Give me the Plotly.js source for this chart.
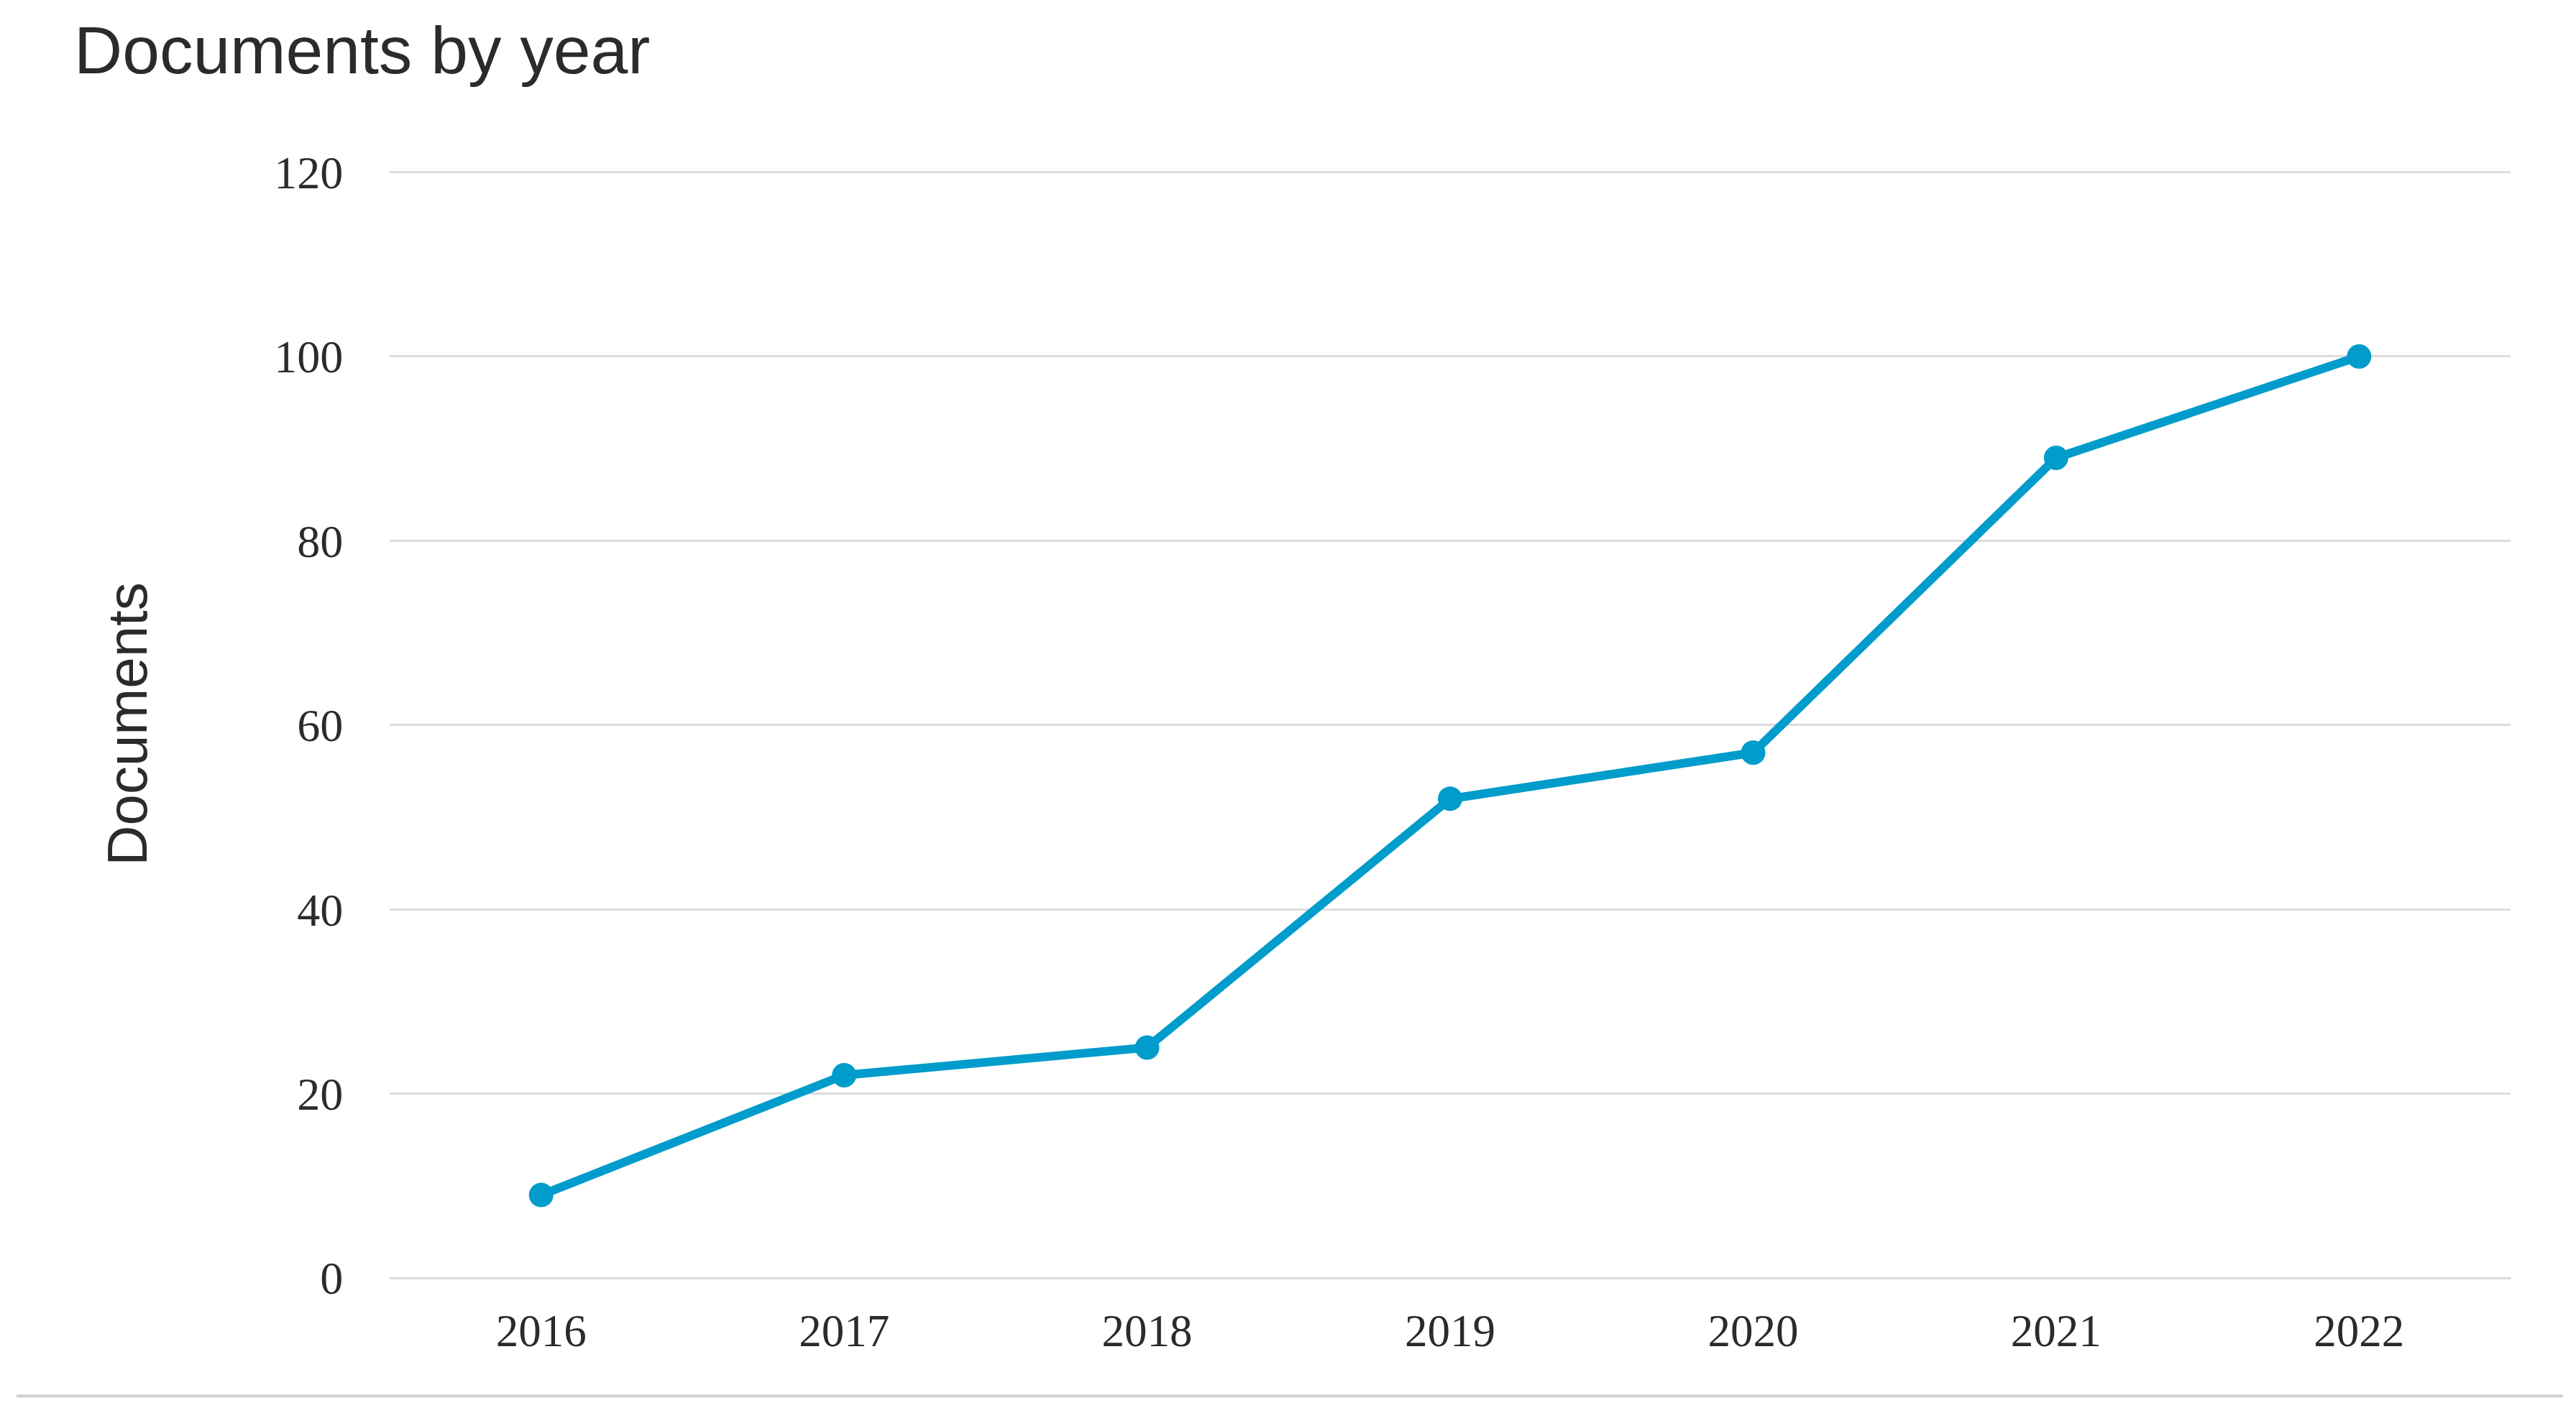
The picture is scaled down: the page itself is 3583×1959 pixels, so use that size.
<!DOCTYPE html>
<html>
<head>
<meta charset="utf-8">
<script src="https://cdn.plot.ly/plotly-3.0.1.min.js"></script>
<style>
  html, body { margin: 0; padding: 0; background: #ffffff; }
  #chart { width: 3583px; height: 1959px; }
</style>
</head>
<body>
<div id="chart"></div>
<script>
const years = ["2016", "2017", "2018", "2019", "2020", "2021", "2022"];
const documents = [9, 22, 25, 52, 57, 89, 100];
const yTickValues = [0, 20, 40, 60, 80, 100, 120];
const yTickLabels = ["0", "20", "40", "60", "80", "100", "120"];

const lineColor = "#009ccb";

const trace = {
  type: "scatter",
  mode: "lines+markers",
  x: years,
  y: documents,
  line: { color: lineColor, width: 12 },
  marker: { color: lineColor, size: 34 },
  hoverinfo: "x+y",
  showlegend: false
};

const layout = {
  width: 3583,
  height: 1959,
  paper_bgcolor: "#ffffff",
  plot_bgcolor: "#ffffff",
  margin: { l: 542, r: 91, t: 237, b: 181, pad: 0 },
  title: {
    text: "Documents by year",
    font: { family: "Liberation Sans, Arial, sans-serif", size: 93, color: "#2b2b2b" },
    xref: "container",
    yref: "container",
    x: 103 / 3583,
    xanchor: "left",
    y: 1 - 69 / 1959,
    yanchor: "middle"
  },
  xaxis: {
    type: "category",
    range: [-0.5, 6.5],
    showgrid: false,
    zeroline: false,
    showline: false,
    ticks: "outside",
    ticklen: 18,
    tickcolor: "rgba(0,0,0,0)",
    tickfont: { family: "Liberation Serif, serif", size: 63, color: "#2b2b2b" },
    fixedrange: true
  },
  yaxis: {
    range: [0, 120.2],
    tickvals: yTickValues,
    ticktext: yTickLabels,
    showgrid: true,
    gridcolor: "#dcdcdc",
    gridwidth: 3,
    zeroline: true,
    zerolinecolor: "#d8dae0",
    zerolinewidth: 3,
    showline: false,
    ticks: "outside",
    ticklen: 51,
    tickcolor: "rgba(0,0,0,0)",
    tickfont: { family: "Liberation Serif, serif", size: 64, color: "#2b2b2b" },
    title: {
      text: "Documents",
      font: { family: "Liberation Sans, Arial, sans-serif", size: 78, color: "#2b2b2b" },
      standoff: 150
    },
    automargin: false,
    fixedrange: true
  },
  shapes: [
    {
      type: "line",
      xref: "paper",
      yref: "paper",
      x0: -0.176,
      x1: 1.0247,
      y0: -0.1066,
      y1: -0.1066,
      line: { color: "#d0d0d0", width: 4 }
    }
  ]
};

Plotly.newPlot("chart", [trace], layout, { displayModeBar: false, staticPlot: true });
</script>
</body>
</html>
